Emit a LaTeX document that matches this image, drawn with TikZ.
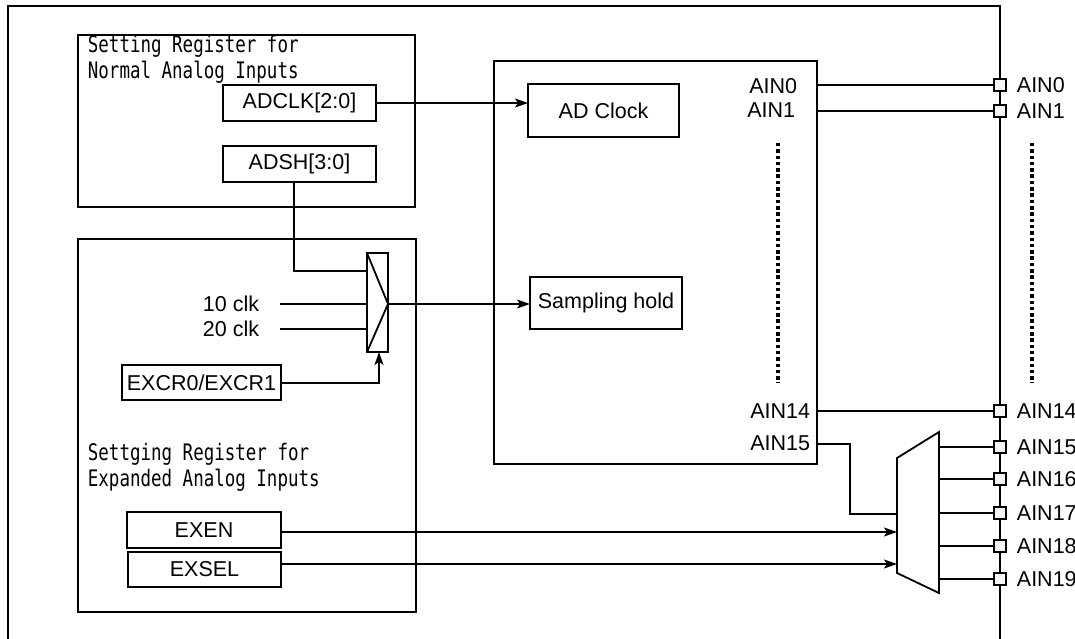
\documentclass[tikz,border=0pt]{standalone}
\usepackage{fontspec}
\usepackage{graphicx}
\setmainfont{Liberation Sans}
\newfontfamily\monofont{DejaVu Sans Mono}
\usetikzlibrary{arrows.meta}
\begin{document}
\begin{tikzpicture}[x=1pt,y=-1pt, line width=1.8pt,
  box/.style={draw, inner sep=0pt, outer sep=0pt, anchor=north west, font=\fontsize{21.5}{25}\selectfont},
  lbl/.style={inner sep=0pt, font=\fontsize{21.5}{25}\selectfont},
  mono/.style={inner sep=0pt, anchor=base west, font=\monofont\fontsize{17.5}{20}\selectfont},
  arr/.style={-{Stealth[length=13pt,width=9pt,inset=3pt]}},
  pin/.style={draw, fill=gray!8, minimum size=12pt, inner sep=0pt, outer sep=0pt, line width=1.5pt},
  dots/.style={line width=3.8pt, dash pattern=on 3.5pt off 2.8pt}]
\useasboundingbox (0,0) rectangle (1075,639);

% outer frame
\coordinate (fbl) at (8,639);
\coordinate (ftl) at (8,6);
\coordinate (ftr) at (1000,6);
\coordinate (fbr) at (1000,639);
\draw (fbl) -- (ftl) -- (ftr) -- (fbr);

% register blocks
\node[box, minimum width=337pt, minimum height=172pt] (normal) at (78,35) {};
\node[mono] (n1) at (87,53) {\scalebox{1}[1.3]{Setting Register for}};
\node[mono] (n2) at (87,79) {\scalebox{1}[1.3]{Normal Analog Inputs}};
\node[box, minimum width=153pt, minimum height=36pt] (adclk) at (223,85) {ADCLK[2:0]};
\node[box, minimum width=153pt, minimum height=36pt] (adsh) at (223,146) {ADSH[3:0]};

\node[box, minimum width=338pt, minimum height=373pt] (expanded) at (78,239) {};
\node[mono] (e1) at (87,460) {\scalebox{1}[1.3]{Settging Register for}};
\node[mono] (e2) at (87,486) {\scalebox{1}[1.3]{Expanded Analog Inputs}};
\node[box, minimum width=154pt, minimum height=36pt] (exen) at (127,512) {EXEN};
\node[box, minimum width=153pt, minimum height=35pt] (exsel) at (128,552) {EXSEL};
\node[box, minimum width=159pt, minimum height=35pt] (excr) at (122,365) {EXCR0/EXCR1};

% small selector
\node[box, minimum width=21pt, minimum height=99pt] (sel) at (367,253) {};
\coordinate (selout) at (388,304);
\draw (sel.north west) -- (selout) -- (sel.south west);

\node[lbl, anchor=east] (c10) at (260,304) {10 clk};
\node[lbl, anchor=east] (c20) at (260,329) {20 clk};
\coordinate (c10e) at (280,304);
\coordinate (c20e) at (280,329);
\draw (c10e) -- (c10e -| sel.west);
\draw (c20e) -- (c20e -| sel.west);
\coordinate (adshbend) at (294,271);
\draw (adsh.south -| adshbend) -- (adshbend) -- (adshbend -| sel.west);
\coordinate (excrbend) at (379,383);
\draw[arr] (excr.east |- excrbend) -- (excrbend) -- (excrbend |- sel.south);

% AD converter block
\node[box, minimum width=323pt, minimum height=403pt] (adc) at (494,61) {};
\node[box, minimum width=151pt, minimum height=53pt] (adclock) at (528,84) {AD Clock};
\node[box, minimum width=152pt, minimum height=52pt] (samp) at (530,277) {Sampling hold};
\draw[arr] (adclk.east |- 0,103) -- (adclock.west |- 0,103);
\draw[arr] (selout) -- (samp.west |- selout);

\node[lbl, anchor=east] (i0) at (798,86) {AIN0};
\node[lbl, anchor=east] (i1) at (796,110) {AIN1};
\node[lbl, anchor=east] (i14) at (811,411) {AIN14};
\node[lbl, anchor=east] (i15) at (811,443) {AIN15};
\coordinate (d1a) at (778,143);
\coordinate (d1b) at (778,383);
\draw[dots] (d1a) -- (d1b);
\coordinate (d2a) at (1032,143);
\coordinate (d2b) at (1032,383);
\draw[dots] (d2a) -- (d2b);

% expansion multiplexer
\coordinate (mtl) at (897,458);
\coordinate (mbl) at (897,573);
\coordinate (mtr) at (939,432);
\coordinate (mbr) at (939,593);
\draw (mtl) -- (mtr) -- (mbr) -- (mbl) -- cycle;

% pins
\foreach \n/\y in {0/85,1/111,14/411,15/447,16/479,17/513,18/546,19/579} {
  \node[pin] (p\n) at (1000,\y) {};
  \node[lbl, anchor=west] (pl\n) at (1016,\y) {AIN\n};
}

\draw (adc.east |- p0) -- (p0.west);
\draw (adc.east |- p1) -- (p1.west);
\draw (adc.east |- p14) -- (p14.west);
\coordinate (b15a) at (850,444);
\coordinate (b15b) at (850,514);
\draw (adc.east |- b15a) -- (b15a) -- (b15b) -- (mtl |- b15b);
\foreach \n in {15,16,17,18,19} {
  \draw (mtr |- p\n) -- (p\n.west);
}
\draw[arr] (exen.east |- 0,532) -- (mtl |- 0,532);
\draw[arr] (exsel.east |- 0,564) -- (mtl |- 0,564);
\end{tikzpicture}
\end{document}
